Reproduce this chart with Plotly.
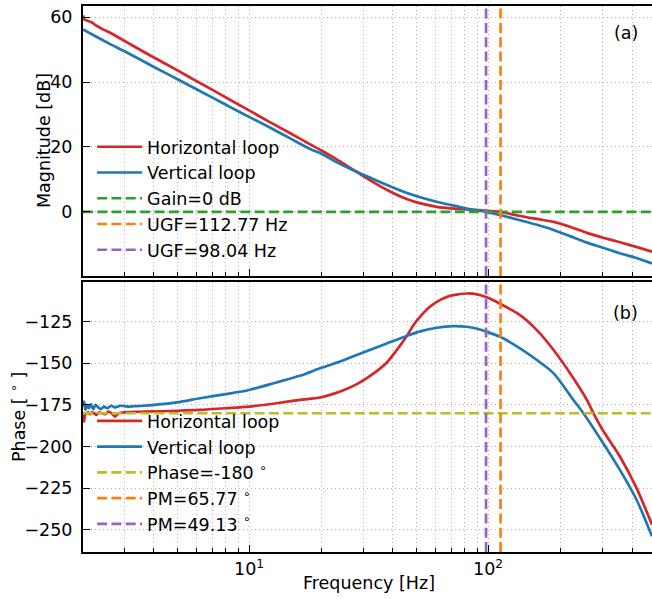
import math
import plotly.graph_objects as go

# ---------------- data ----------------
mag_h_f = [2.02, 2.05, 2.1, 2.2, 2.3, 2.45, 2.6, 2.8, 3.0, 3.5, 4.0, 5.0, 6.0, 7.0, 8.5, 10, 12, 15, 18, 20,
           23, 27, 32, 37.7, 44, 50.3, 61, 72, 84, 99, 112.77, 136, 160, 188, 220, 259, 300, 356, 420, 485]
mag_h = [60.6, 59.3, 59.0, 58.4, 57.4, 56.3, 55.4, 54.1, 52.8, 50.0, 47.6, 43.7, 40.4, 37.7, 34.2, 31.3, 28.0,
         24.1, 20.8, 19.0, 16.4, 13.2, 9.8, 6.8, 4.4, 2.9, 1.55, 1.0, 0.7, 0.3, 0.0, -1.3, -2.2, -3.1, -4.6,
         -6.5, -7.9, -9.4, -10.9, -12.3]

mag_v_f = [2.02, 2.1, 2.3, 2.6, 3.0, 3.5, 4.0, 5.0, 6.0, 7.0, 8.5, 10, 12, 15, 18, 20, 23, 27, 32, 38, 44, 52,
           61, 72, 84, 98.04, 112, 136, 160, 188, 220, 259, 300, 356, 420, 485]
mag_v = [56.3, 55.6, 54.0, 51.9, 49.6, 47.0, 44.7, 41.0, 37.9, 35.3, 32.0, 29.3, 26.3, 22.5, 19.4, 18.0, 15.5,
         13.0, 10.6, 8.2, 6.3, 4.5, 3.1, 1.9, 0.8, 0.0, -1.0, -2.6, -4.0, -5.6, -7.5, -9.5, -11.0, -12.8,
         -14.3, -15.9]

ph_h_f = [2.02, 2.04, 2.06, 2.09, 2.12, 2.16, 2.2, 2.25, 2.3, 2.36, 2.42, 2.5, 2.58, 2.66, 2.75, 2.85, 3.0,
          3.3, 3.7, 4.2, 5.0, 6.2, 8.0, 10, 13, 16.3, 19.8, 22, 25, 28, 31, 34, 37.7, 41, 45.7, 49, 51.9, 56,
          61, 66, 71.6, 81.5, 90, 98.7, 112.3, 136, 160, 188, 227.5, 259, 276, 303, 356, 418, 485]
ph_h = [-180, -185, -181, -180, -179.5, -180.5, -179.5, -180, -181, -179.5, -180, -180.5, -179, -180, -182,
        -180, -179.5, -179.2, -179, -178.8, -178.5, -178, -177, -176, -174, -172, -170.5, -168.8, -166,
        -162.8, -159, -155, -149.5, -143, -133.5, -126.5, -122, -117, -113, -110.5, -109, -108, -108.5,
        -110.3, -114.2, -121, -130, -142, -159, -172, -180, -190.5, -206, -225, -247]

ph_v_f = [2.02, 2.04, 2.07, 2.1, 2.14, 2.18, 2.23, 2.28, 2.34, 2.4, 2.47, 2.55, 2.65, 2.75, 2.9, 3.1, 3.3,
          3.6, 4.0, 5.0, 6.24, 8.0, 10, 13, 16.3, 19.8, 22, 25, 30, 37.7, 45.7, 52, 61, 71.6, 81.5, 90, 98.04,
          112.3, 136, 160, 188, 227.5, 250.5, 303, 356, 418, 485]
ph_v = [-176, -173, -178, -175, -177, -174.5, -177.5, -175, -176.5, -177.5, -176, -177, -175.5, -176.5,
        -175.5, -176, -175.8, -175.5, -175, -173.5, -171, -168.5, -166, -161.5, -157.5, -153, -150.8, -148,
        -143.5, -138, -133.5, -130.8, -128.6, -127.6, -128, -129.2, -130.87, -134, -141, -148, -156, -172,
        -180, -198, -214, -232, -254]

gain_ref = 0
phase_ref = -180
ugf_h = 112.77
ugf_v = 98.04
pm_h = 65.77
pm_v = 49.13

x_range = [2.02, 485]
mag_range = [-19.8, 63.5]
ph_range = [-263.4, -101.1]
mag_ticks = [0, 20, 40, 60]
ph_ticks = [-250, -225, -200, -175, -150, -125]
x_major = [10, 100]
x_major_text = ["10<sup>1</sup>", "10<sup>2</sup>"]
x_minor = [3, 4, 5, 6, 7, 8, 9, 20, 30, 40, 50, 60, 70, 80, 90, 200, 300, 400]

# ---------------- style ----------------
RED, BLUE, GREEN, ORANGE, PURPLE, OLIVE = "#d62728", "#1f77b4", "#2ca02c", "#ff7f0e", "#9467bd", "#bcbd22"
LW = 2.7
DASH = "10px,4.3px"
FONT = "DejaVu Sans"
FS = 17.5

fig = go.Figure()

def curve(xs, ys, name, color, xa, ya, leg):
    return go.Scatter(x=xs, y=ys, mode="lines", name=name,
                      line=dict(color=color, width=LW, shape="spline", smoothing=0.8),
                      xaxis=xa, yaxis=ya, legend=leg)

def dashed(xs, ys, name, color, xa, ya, leg):
    return go.Scatter(x=xs, y=ys, mode="lines", name=name,
                      line=dict(color=color, width=LW, dash=DASH),
                      xaxis=xa, yaxis=ya, legend=leg)

# top panel
fig.add_trace(curve(mag_h_f, mag_h, "Horizontal loop", RED, "x", "y", "legend"))
fig.add_trace(curve(mag_v_f, mag_v, "Vertical loop", BLUE, "x", "y", "legend"))
fig.add_trace(dashed(x_range, [gain_ref, gain_ref], "Gain=0 dB", GREEN, "x", "y", "legend"))
fig.add_trace(dashed([ugf_h, ugf_h], mag_range, f"UGF={ugf_h:.2f} Hz", ORANGE, "x", "y", "legend"))
fig.add_trace(dashed([ugf_v, ugf_v], mag_range, f"UGF={ugf_v:.2f} Hz", PURPLE, "x", "y", "legend"))

# bottom panel
fig.add_trace(curve(ph_h_f, ph_h, "Horizontal loop", RED, "x2", "y2", "legend2"))
fig.add_trace(curve(ph_v_f, ph_v, "Vertical loop", BLUE, "x2", "y2", "legend2"))
fig.add_trace(dashed(x_range, [phase_ref, phase_ref], "Phase=-180 <sup>∘</sup>", OLIVE, "x2", "y2", "legend2"))
fig.add_trace(dashed([ugf_h, ugf_h], ph_range, f"PM={pm_h:.2f} <sup>∘</sup>", ORANGE, "x2", "y2", "legend2"))
fig.add_trace(dashed([ugf_v, ugf_v], ph_range, f"PM={pm_v:.2f} <sup>∘</sup>", PURPLE, "x2", "y2", "legend2"))

lx = [math.log10(x_range[0]), math.log10(x_range[1])]
GRID = dict(showgrid=True, gridcolor="#b0b0b0", gridwidth=1.2, griddash="1.3px,2.7px")

common_x = dict(type="log", range=lx, showline=True, linecolor="black", linewidth=2, mirror=True,
                ticks="inside", ticklen=7, tickwidth=1.4, tickcolor="black",
                tickmode="array", tickvals=x_major, ticktext=x_major_text, **GRID,
                minor=dict(tickmode="array", tickvals=x_minor, ticks="inside", ticklen=4, tickwidth=1.2,
                           tickcolor="black", **GRID),
                zeroline=False, tickfont=dict(family=FONT, size=FS, color="black"))

common_y = dict(showline=True, linecolor="black", linewidth=2, mirror=False,
                ticks="inside", ticklen=7, tickwidth=1.4, tickcolor="black", **GRID,
                zeroline=False, tickfont=dict(family=FONT, size=FS, color="black"), ticklabelstandoff=5)

TF = dict(family=FONT, size=FS, color="black")

fig.update_layout(
    width=652, height=599,
    margin=dict(l=83, r=0, t=6, b=47),
    paper_bgcolor="white", plot_bgcolor="white",
    font=dict(family=FONT, size=FS, color="black"),
    xaxis=dict(**common_x, domain=[0, 1], anchor="y", showticklabels=False, matches="x2"),
    yaxis=dict(**common_y, domain=[0.5055, 1], anchor="x", range=mag_range,
               tickmode="array", tickvals=mag_ticks, ticktext=[str(v) for v in mag_ticks]),
    xaxis2=dict(**common_x, domain=[0, 1], anchor="y2"),
    yaxis2=dict(**common_y, domain=[0, 0.4945], anchor="x2", range=ph_range,
                tickmode="array", tickvals=ph_ticks, ticktext=["\u2212" + str(-v) for v in ph_ticks]),
    legend=dict(x=0.016, y=0.775, xanchor="left", yanchor="top", bgcolor="rgba(0,0,0,0)",
                font=TF, tracegroupgap=0, itemwidth=45),
    legend2=dict(x=0.016, y=0.2728, xanchor="left", yanchor="top", bgcolor="rgba(0,0,0,0)",
                 font=TF, tracegroupgap=0, itemwidth=45),
    annotations=[
        dict(text="(a)", x=0.954, y=0.9505, xref="paper", yref="paper", xanchor="center", yanchor="middle",
             showarrow=False, font=TF),
        dict(text="(b)", x=0.954, y=0.4377, xref="paper", yref="paper", xanchor="center", yanchor="middle",
             showarrow=False, font=TF),
        dict(text="Magnitude [dB]", x=-0.0685, y=0.7527, xref="paper", yref="paper", textangle=-90,
             xanchor="center", yanchor="middle", showarrow=False, font=TF),
        dict(text="Phase [ <sup>∘</sup> ]", x=-0.1142, y=0.2473, xref="paper", yref="paper", textangle=-90,
             xanchor="center", yanchor="middle", showarrow=False, font=TF),
        dict(text="Frequency [Hz]", x=0.5018, y=-0.0568, xref="paper", yref="paper",
             xanchor="center", yanchor="middle", showarrow=False, font=TF),
    ],
    showlegend=True,
)

fig.write_html("out.html")
